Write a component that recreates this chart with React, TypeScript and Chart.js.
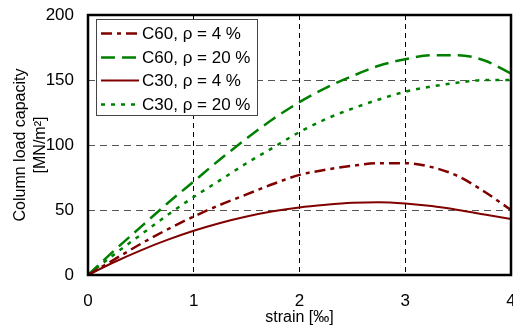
import React, { useEffect, useRef } from "react";
import { Chart, registerables } from "chart.js";

Chart.register(...registerables);

const strain = [0, 0.25, 0.5, 0.75, 1, 1.25, 1.5, 1.75, 2, 2.25, 2.5, 2.75, 3, 3.25, 3.5, 3.75, 4];
const c60rho4 = [0, 12, 24, 35, 45, 54, 62, 70, 77, 81, 84, 86, 86, 83, 76, 64, 50];
const c60rho20 = [0, 19, 37, 55, 72, 89, 105, 120, 133, 144, 153, 161, 166, 169, 169, 165, 155];
const c30rho4 = [0, 10, 19, 27, 34, 40, 45, 49, 52, 54, 55.5, 56, 55, 53, 50, 46.5, 43];
const c30rho20 = [0, 16, 31, 46, 60, 73, 86, 98, 110, 120, 128, 135, 141, 145, 148, 150, 150];
const seriesLabels = ["C60, ρ = 4 %", "C60, ρ = 20 %", "C30, ρ = 4 %", "C30, ρ = 20 %"];
const xTicks = [0, 1, 2, 3, 4];
const yTicks = [0, 50, 100, 150, 200];

const RED = "#800000";
const GREEN = "#008000";
const FAMILY = "'Liberation Sans', Arial, sans-serif";

const styles = [
  { color: RED, dash: [11, 5, 4, 5], width: 2.5 },
  { color: GREEN, dash: [14, 7], width: 2.5 },
  { color: RED, dash: [], width: 2 },
  { color: GREEN, dash: [4, 6], width: 2.5 },
];

const framePlugin = {
  id: "frameAndLegend",
  afterDraw(chart: any) {
    const { ctx, chartArea } = chart;
    ctx.save();
    ctx.strokeStyle = "#000";
    ctx.lineWidth = 2.5;
    ctx.setLineDash([]);
    ctx.strokeRect(chartArea.left, chartArea.top, chartArea.right - chartArea.left, chartArea.bottom - chartArea.top);
    // legend
    const lx = 96, ly = 19, lw = 161, lh = 96;
    ctx.fillStyle = "#fff";
    ctx.fillRect(lx, ly, lw, lh);
    ctx.lineWidth = 1;
    ctx.strokeStyle = "#444";
    ctx.strokeRect(lx + 0.5, ly + 0.5, lw, lh);
    ctx.font = "17px " + FAMILY;
    ctx.textBaseline = "middle";
    ctx.fillStyle = "#000";
    const rows = [33, 57, 80, 104];
    seriesLabels.forEach((lab, i) => {
      const s = styles[i];
      ctx.strokeStyle = s.color;
      ctx.lineWidth = s.width;
      ctx.setLineDash(s.dash);
      ctx.beginPath();
      ctx.moveTo(101, rows[i] + 0.5);
      ctx.lineTo(139, rows[i] + 0.5);
      ctx.stroke();
      ctx.setLineDash([]);
      ctx.fillText(lab, 142, rows[i] + 1);
    });
    ctx.restore();
  },
};

export default function App() {
  const ref = useRef<HTMLCanvasElement>(null);
  useEffect(() => {
    const datasets = [c60rho4, c60rho20, c30rho4, c30rho20].map((vals, i) => ({
      label: seriesLabels[i],
      data: strain.map((x, j) => ({ x, y: vals[j] })),
      borderColor: styles[i].color,
      borderWidth: styles[i].width,
      borderDash: styles[i].dash,
      pointRadius: 0,
      fill: false,
      cubicInterpolationMode: "monotone" as const,
    }));
    const font = { family: FAMILY, size: 17 };
    const chart = new Chart(ref.current!, {
      type: "line",
      data: { datasets },
      options: {
        animation: false,
        responsive: false,
        layout: { padding: { top: 15, right: 2, left: 0, bottom: 0 } },
        plugins: { legend: { display: false }, tooltip: { enabled: false } },
        scales: {
          x: {
            type: "linear",
            min: 0,
            max: 4,
            afterBuildTicks: (s: any) => { s.ticks = xTicks.map((v) => ({ value: v })); },
            afterFit: (s: any) => { s.height = 56; s.paddingLeft = 0; s.paddingRight = 0; },
            ticks: { font, color: "#000", padding: 16, maxRotation: 0, callback: (v: any) => String(v) },
            grid: { color: "#000", drawTicks: false, lineWidth: 1 },
            border: { display: false, dash: [5, 4] } as any,
            title: { display: true, text: "strain [‰]", font: { family: FAMILY, size: 16 }, color: "#000", padding: { top: 0, bottom: 4 } },
          },
          y: {
            type: "linear",
            min: 0,
            max: 200,
            afterBuildTicks: (s: any) => { s.ticks = yTicks.map((v) => ({ value: v })); },
            afterFit: (s: any) => { s.width = 88; s.paddingTop = 0; s.paddingBottom = 0; },
            ticks: { font, color: "#000", padding: 14 },
            grid: { color: "#555", drawTicks: false, lineWidth: 1 },
            border: { display: false, dash: [7, 5] } as any,
            title: {
              display: true,
              text: ["Column load capacity", "[MN/m²]"],
              font: { family: FAMILY, size: 16, lineHeight: 1.25 },
              color: "#000",
              padding: { top: 11, bottom: 0 },
            },
          },
        },
      },
      plugins: [framePlugin],
    });
    return () => chart.destroy();
  }, []);
  return (
    <div style={{ position: "absolute", left: 0, top: 0, width: 513, height: 331, background: "#fff" }}>
      <canvas ref={ref} width={513} height={331} />
    </div>
  );
}
